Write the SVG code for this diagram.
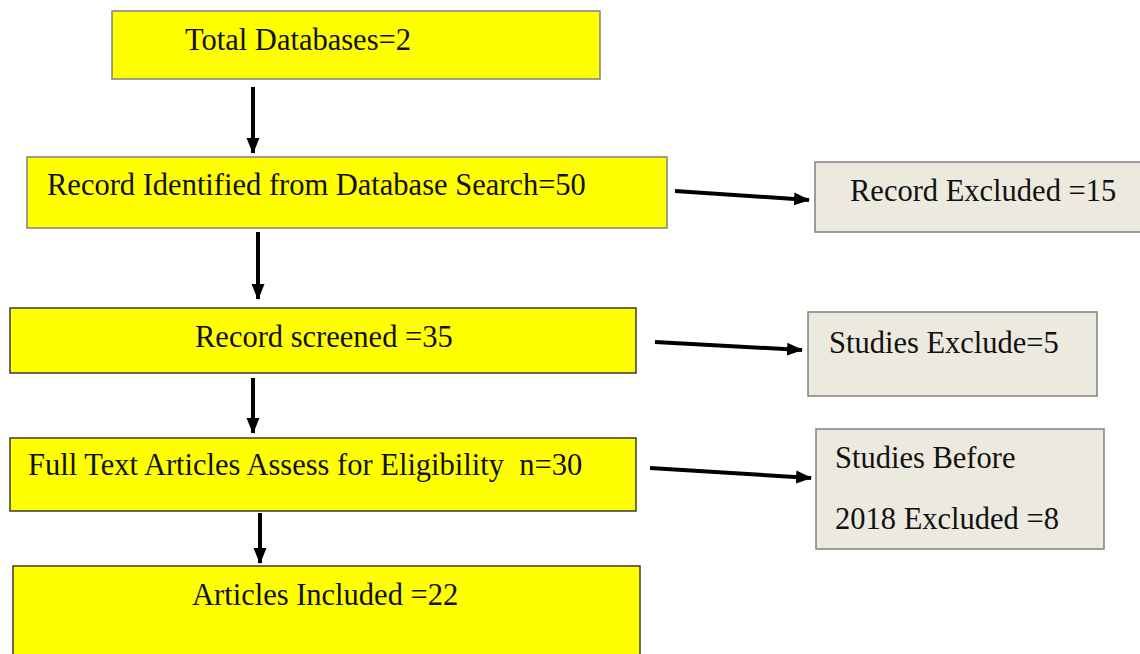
<svg xmlns="http://www.w3.org/2000/svg" width="1140" height="654" viewBox="0 0 1140 654">
  <style>
    .main { fill: #ffff00; stroke: #3a3a3a; stroke-width: 1.5; }
    .side { fill: #ece9df; stroke: #808080; stroke-width: 1.5; }
    .lbl { font-family: "Liberation Serif", "Times New Roman", serif; font-size: 30.5px; fill: #111; }
    .conn { stroke: #000; stroke-width: 4; fill: none; marker-end: url(#head); }
  </style>
  <defs>
    <marker id="head" markerUnits="userSpaceOnUse" markerWidth="16" markerHeight="16" viewBox="0 0 16 16" refX="15" refY="8" orient="auto">
      <path d="M0,1.5 L16,8 L0,14.5 Z" fill="#000"/>
    </marker>
  </defs>

  <rect width="1140" height="654" fill="#ffffff"/>

  <g id="connectors">
    <line class="conn" x1="253" y1="87" x2="253" y2="153"/>
    <line class="conn" x1="258" y1="232" x2="258" y2="299"/>
    <line class="conn" x1="253" y1="378" x2="253" y2="433"/>
    <line class="conn" x1="260" y1="513" x2="260" y2="563"/>
    <line class="conn" x1="675" y1="191" x2="809" y2="200"/>
    <line class="conn" x1="655" y1="342" x2="802" y2="350"/>
    <line class="conn" x1="650" y1="468" x2="811" y2="478"/>
  </g>

  <g id="total-databases">
    <rect class="main" x="112" y="11" width="488" height="68" style="stroke:#808080"/>
    <text class="lbl" x="185" y="50">Total Databases=2</text>
  </g>

  <g id="records-identified">
    <rect class="main" x="27" y="157" width="640" height="71" style="stroke:#808080"/>
    <text class="lbl" x="47" y="195">Record Identified from Database Search=50</text>
  </g>

  <g id="records-excluded">
    <rect class="side" x="815" y="162" width="330" height="70"/>
    <text class="lbl" x="850" y="201">Record Excluded =15</text>
  </g>

  <g id="records-screened">
    <rect class="main" x="10" y="308" width="626" height="65"/>
    <text class="lbl" x="195" y="347">Record screened =35</text>
  </g>

  <g id="studies-excluded">
    <rect class="side" x="808" y="312" width="289" height="84"/>
    <text class="lbl" x="829" y="353">Studies Exclude=5</text>
  </g>

  <g id="full-text-assessed">
    <rect class="main" x="10" y="438" width="626" height="73"/>
    <text class="lbl" x="28" y="475" xml:space="preserve">Full Text Articles Assess for Eligibility  n=30</text>
  </g>

  <g id="before-2018-excluded">
    <rect class="side" x="816" y="429" width="288" height="120"/>
    <text class="lbl" x="835" y="468">Studies Before</text>
    <text class="lbl" x="835" y="529">2018 Excluded =8</text>
  </g>

  <g id="articles-included">
    <rect class="main" x="13" y="566" width="627" height="100"/>
    <text class="lbl" x="192" y="605">Articles Included =22</text>
  </g>
</svg>
